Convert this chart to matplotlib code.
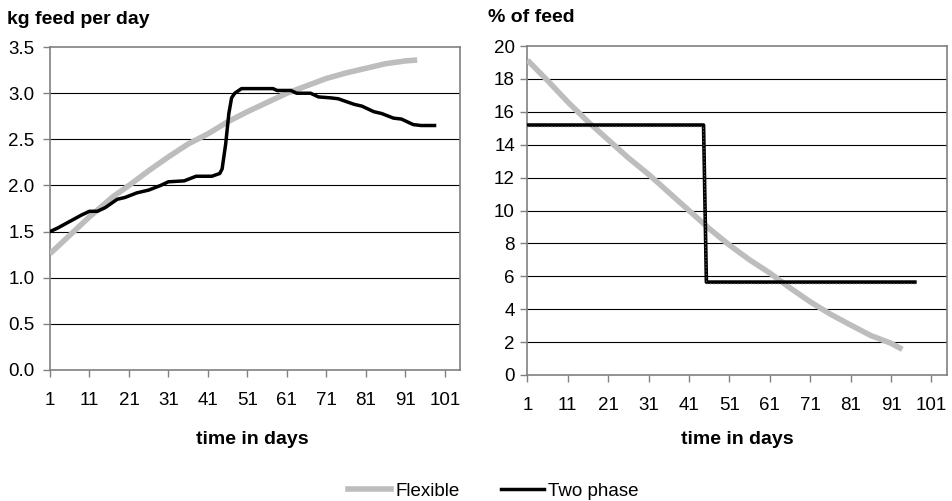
import matplotlib
matplotlib.use("Agg")
import matplotlib.pyplot as plt
from matplotlib.lines import Line2D
from matplotlib import transforms

plt.rcParams['font.family'] = ['Liberation Sans', 'DejaVu Sans']

# ---- data ----
# Left panel: kg feed per day
flex_kg_days = [1, 4, 7, 11, 14, 17, 21, 26, 31, 36, 41, 46, 51, 56, 61, 66, 71, 76, 81, 86, 91, 94]
flex_kg_vals = [1.26, 1.38, 1.50, 1.66, 1.77, 1.88, 2.00, 2.16, 2.31, 2.45, 2.56, 2.69, 2.80, 2.90, 3.00, 3.08, 3.16, 3.22, 3.27, 3.32, 3.35, 3.36]

two_kg_days = [1, 3, 6, 9, 11, 13, 15, 18, 20, 23, 26, 29, 31, 35, 38, 42, 44, 44.6, 45.5, 46.3, 47.0, 47.8, 49.5, 52, 57.5, 58.5, 62, 63.5, 67, 69, 72, 74, 78, 80, 83, 85, 88, 90, 93, 95, 98.4]
two_kg_vals = [1.50, 1.54, 1.61, 1.68, 1.72, 1.72, 1.76, 1.85, 1.87, 1.92, 1.95, 2.00, 2.04, 2.05, 2.10, 2.10, 2.13, 2.18, 2.45, 2.78, 2.95, 3.00, 3.05, 3.05, 3.05, 3.03, 3.03, 3.00, 3.00, 2.96, 2.95, 2.94, 2.88, 2.86, 2.80, 2.78, 2.73, 2.72, 2.66, 2.65, 2.65]

# Right panel: % of feed
flex_pct_days = [1, 6, 11, 16, 21, 26, 31, 36, 41, 46, 51, 56, 61, 66, 71, 76, 81, 86, 91, 93.8]
flex_pct_vals = [19.15, 17.9, 16.6, 15.4, 14.3, 13.2, 12.2, 11.1, 10.0, 8.9, 7.9, 7.0, 6.2, 5.3, 4.45, 3.7, 3.04, 2.4, 1.93, 1.56]

two_pct_days = [1, 44.6, 45.3, 96.9]
two_pct_vals = [15.2, 15.2, 5.65, 5.65]

x_ticks = [1, 11, 21, 31, 41, 51, 61, 71, 81, 91, 101]
left_yticks = [0.0, 0.5, 1.0, 1.5, 2.0, 2.5, 3.0, 3.5]
right_yticks = [0, 2, 4, 6, 8, 10, 12, 14, 16, 18, 20]

series_names = ["Flexible", "Two phase"]

GRAY = "#bdbdbd"
SPINE = "#808080"
FS = 13.5

fig = plt.figure(figsize=(9.52, 5.01), dpi=100)
axL = fig.add_axes([0.0525, 0.2615, 0.4305, 0.6445])
axR = fig.add_axes([0.554, 0.2515, 0.4405, 0.6565])

def style(ax, yticks, fmt, ypad):
    ax.set_xlim(1, 104.8)
    ax.set_ylim(yticks[0], yticks[-1])
    ax.set_xticks(x_ticks)
    ax.set_xticklabels([str(t) for t in x_ticks], fontsize=FS)
    ax.set_yticks(yticks)
    ax.set_yticklabels([fmt(v) for v in yticks], fontsize=FS)
    for s in ax.spines.values():
        s.set_color(SPINE)
        s.set_linewidth(1.2)
    ax.tick_params(axis='both', colors=SPINE, length=5, width=1.0, labelcolor='black')
    ax.tick_params(axis='x', pad=11)
    ax.tick_params(axis='y', pad=ypad)
    for v in yticks[1:-1]:
        ax.axhline(v, color='black', lw=0.8, zorder=1)

style(axL, left_yticks, lambda v: f"{v:.1f}", 6)
style(axR, right_yticks, lambda v: f"{v:d}", 4)

axL.plot(flex_kg_days, flex_kg_vals, color=GRAY, lw=4.0, solid_capstyle='butt', zorder=3)
axL.plot(two_kg_days, two_kg_vals, color='black', lw=2.5, zorder=4)
axR.plot(flex_pct_days, flex_pct_vals, color=GRAY, lw=4.0, solid_capstyle='butt', zorder=3)
axR.plot(two_pct_days, two_pct_vals, color='black', lw=2.6, zorder=4)
off = transforms.offset_copy(axR.transData, fig=fig, x=0, y=-1.3, units='points')
axR.plot(two_pct_days, two_pct_vals, color='#8a8a8a', lw=0.7, ls=(0, (1, 2.5)), zorder=5, transform=off)

fig.text(7/952, 1 - 20/501, "kg feed per day", fontsize=14, fontweight='bold', va='center', ha='left')
fig.text(488/952, 1 - 17/501, "% of feed", fontsize=14, fontweight='bold', va='center', ha='left')
fig.text(252/952, 1 - 440/501, "time in days", fontsize=14, fontweight='bold', va='center', ha='center')
fig.text(737/952, 1 - 440/501, "time in days", fontsize=14, fontweight='bold', va='center', ha='center')

handles = [Line2D([], [], color=GRAY, lw=4.0), Line2D([], [], color='black', lw=2.5)]
fig.legend(handles, series_names, loc='center', bbox_to_anchor=(0.518, 1 - 491/501), ncol=2,
           frameon=False, fontsize=FS, handlelength=2.3, handletextpad=0.2, columnspacing=2.2)

fig.savefig("out.png", dpi=100)
